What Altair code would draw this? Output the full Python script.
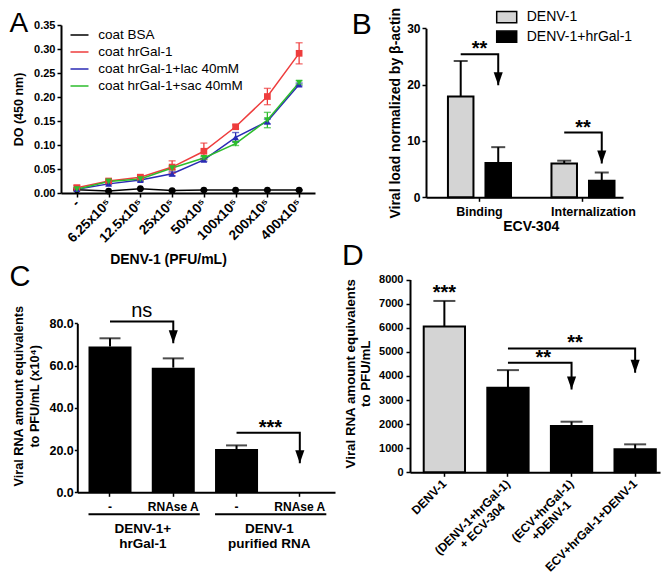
import altair as alt
import pandas as pd

FONT = "Liberation Sans"
BLACK = "#000000"
GRAY = "#d4d4d4"
TRI = "M-0.7,-2L0.7,-2L0,0Z"
BOX = "M-1.25,-0.7H1.25V0.7H-1.25Z"
NB = "\u00a0"
ZW = "\u200b"

# ---------------- Panel A data ----------------
a_doses = ["-", "6.25x10⁵", "12.5x10⁵", "25x10⁵", "50x10⁵", "100x10⁵", "200x10⁵", "400x10⁵"]
a_series = ["coat BSA", "coat hrGal-1", "coat hrGal-1+lac 40mM", "coat hrGal-1+sac 40mM"]
a_keys = ["k1", "k2", "k3", "k4"]
a_colors = ["#000000", "#ee3d3d", "#2a2ab4", "#2dbd2d"]
a_shapes = ["circle", "square", "triangle-up", "triangle-down"]
a_bsa = [0.007, 0.004, 0.009, 0.005, 0.006, 0.006, 0.006, 0.006]
a_bsa_err = [0.001, 0.001, 0.001, 0.001, 0.001, 0.001, 0.001, 0.001]
a_gal = [0.011, 0.025, 0.033, 0.054, 0.087, 0.138, 0.201, 0.291]
a_gal_err = [0.005, 0.003, 0.004, 0.013, 0.017, 0.004, 0.017, 0.022]
a_lac = [0.008, 0.019, 0.027, 0.040, 0.069, 0.116, 0.149, 0.226]
a_lac_err = [0.003, 0.002, 0.003, 0.004, 0.003, 0.010, 0.005, 0.003]
a_sac = [0.008, 0.024, 0.029, 0.052, 0.073, 0.103, 0.152, 0.230]
a_sac_err = [0.003, 0.002, 0.003, 0.004, 0.003, 0.004, 0.016, 0.004]
a_yticks = [0.0, 0.05, 0.10, 0.15, 0.20, 0.25, 0.30, 0.35]

# ---------------- Panel B data ----------------
b_groups = ["Binding", "Internalization"]
b_series = ["DENV-1", "DENV-1+hrGal-1"]
b_denv = [17.9, 6.0]
b_denv_err = [24.2, 6.5]
b_gal = [6.1, 2.95]
b_gal_err = [8.9, 4.4]
b_sig_group = ["Binding", "Internalization"]
b_sig_top = [25.4, 11.5]
b_sig_tip = [19.9, 6.0]
b_sig_text = ["**", "**"]
b_yticks = [0, 10, 20, 30]

# ---------------- Panel C data ----------------
c_cats = ["DENV-1+hrGal-1|-", "DENV-1+hrGal-1|RNAse A", "purified RNA|-", "purified RNA|RNAse A"]
c_values = [69.0, 59.0, 20.5, 0.0]
c_err = [72.9, 63.4, 22.2, 0.0]
c_groups = ["DENV-1+\nhrGal-1", "DENV-1\npurified RNA"]
c_group_first = [0, 2]
c_group_last = [1, 3]
c_sig_from = [0, 2]
c_sig_to = [1, 3]
c_sig_top = [80.8, 28.2]
c_sig_tip = [70.5, 13.7]
c_sig_text = ["ns", "***"]
c_yticks = [0, 20, 40, 60, 80]

# ---------------- Panel D data ----------------
d_cats = ["DENV-1", "(DENV-1+hrGal-1)|+ ECV-304", "(ECV+hrGal-1)|+DENV-1", "ECV+hrGal-1+DENV-1"]
d_kind = ["virus", "treated", "treated", "treated"]
d_values = [6050, 3510, 1920, 955]
d_err = [7110, 4240, 2100, 1160]
d_sig_from = [1, 1]
d_sig_to = [2, 3]
d_sig_top = [4542, 5139]
d_sig_tip = [3440, 4128]
d_sig_text = ["**", "**"]
d_yticks = [0, 1000, 2000, 3000, 4000, 5000, 6000, 7000, 8000]

STAR = 20      # asterisk font size
STAR_DY = 1    # asterisk baseline shift below the bracket line


def ax(**kw):
    base = dict(grid=False, domainColor=BLACK, domainWidth=2, tickColor=BLACK, tickWidth=1.5,
                labelColor=BLACK, labelFont=FONT, labelFontWeight="bold", titleColor=BLACK,
                titleFont=FONT, titleFontWeight="bold", labelOverlap=False)
    base.update(kw)
    return alt.Axis(**base)


def one(**kw):
    return pd.DataFrame([kw])


def X(field, scale, axis=None, **kw):
    if axis is not None:
        kw["axis"] = axis
    return alt.X(field, scale=scale, **kw)


def Y(field, scale, axis=None, **kw):
    if axis is not None:
        kw["axis"] = axis
    return alt.Y(field, scale=scale, **kw)


# =============== Panel A ===============
rows = []
for s, k, vals, errs in zip(a_series, a_keys, [a_bsa, a_gal, a_lac, a_sac],
                            [a_bsa_err, a_gal_err, a_lac_err, a_sac_err]):
    for d, v, e in zip(a_doses, vals, errs):
        rows.append({"dose": d, "series": s, "key": k, "value": v, "lo": v - e, "hi": v + e})
df_a = pd.DataFrame(rows)

a_xs = alt.Scale(type="point", domain=a_doses, range=[53, 307], padding=0.5)
a_ys = alt.Scale(domain=[0, 0.35], range=[185, 17], nice=False)
a_xaxis = ax(orient="bottom", offset=-383, title="DENV-1 (PFU/mL)", titleFontSize=14, titleX=160,
             titleY=70.5, titleAlign="center", titleBaseline="alphabetic", titleAngle=0,
             labelAngle=-45, labelAlign="right", labelBaseline="middle", labelFontSize=13.5,
             labelPadding=4, tickSize=4)
a_yaxis = ax(orient="left", offset=-53, values=a_yticks, format=".2f", title="DO (450 nm)",
             titleFontSize=12.5, titleX=-43, titleAlign="center", titleBaseline="middle",
             titleAngle=270, labelFontSize=11, labelPadding=2, tickSize=4)
a_stroke = alt.Scale(domain=a_series, range=a_colors)
a_fill = alt.Scale(domain=a_keys, range=a_colors)
a_shape = alt.Scale(domain=a_keys, range=a_shapes)


def a_x(axis=None):
    return X("dose:N", a_xs, axis, sort=a_doses)


def a_y(field, axis=None):
    return Y(f"{field}:Q", a_ys, axis)


line_legend = alt.Legend(orient="none", legendX=61.5, legendY=17, title=None, symbolType="stroke",
                         symbolSize=324, symbolStrokeWidth=1.5, labelFont=FONT, labelFontSize=13.5,
                         labelColor=BLACK, labelOffset=8.8, rowPadding=0, padding=0, labelLimit=400)
pt_legend = alt.Legend(orient="none", legendX=68, legendY=20.5, title=None, symbolSize=45,
                       symbolStrokeWidth=0, labelFont=FONT, labelFontSize=13, labelOpacity=0,
                       rowPadding=7, padding=0)

a_lines = alt.Chart(df_a).mark_line(strokeWidth=1.5).encode(
    x=a_x(a_xaxis), y=a_y("value", a_yaxis),
    stroke=alt.Stroke("series:N", scale=a_stroke, sort=a_series, legend=line_legend))
a_errs = alt.Chart(df_a).mark_rule(strokeWidth=1.3).encode(
    x=a_x(), y=a_y("lo"), y2="hi",
    stroke=alt.Stroke("series:N", scale=a_stroke, sort=a_series, legend=None))
a_cap_hi = alt.Chart(df_a).mark_tick(size=7, thickness=1.4).encode(
    x=a_x(), y=a_y("hi"), fill=alt.Fill("key:N", scale=a_fill, legend=None))
a_cap_lo = alt.Chart(df_a).mark_tick(size=7, thickness=1.4).encode(
    x=a_x(), y=a_y("lo"), fill=alt.Fill("key:N", scale=a_fill, legend=None))
a_pts = alt.Chart(df_a).mark_point(filled=True, size=45, opacity=1, strokeWidth=0).encode(
    x=a_x(), y=a_y("value"),
    fill=alt.Fill("key:N", scale=a_fill, legend=pt_legend),
    shape=alt.Shape("key:N", scale=a_shape, legend=pt_legend))
panel_a = alt.layer(a_lines, a_errs, a_cap_hi, a_cap_lo, a_pts)

# =============== Panel B ===============
rows = []
for s, vals, errs in zip(b_series, [b_denv, b_gal], [b_denv_err, b_gal_err]):
    for g, v, e in zip(b_groups, vals, errs):
        rows.append({"group": g, "series": s, "value": v, "err": e})
df_b = pd.DataFrame(rows)

b_xs = alt.Scale(domain=b_groups, range=[418, 615], paddingInner=0.391, paddingOuter=0.147,
                 align=0.721, round=False)
b_os = alt.Scale(domain=b_series, paddingInner=0.32, paddingOuter=0, round=False)
b_ys = alt.Scale(domain=[0, 30], range=[189.3, 20.3], nice=False)
b_xaxis = ax(orient="bottom", offset=-378.7, title="ECV-304", titleFontSize=14, titleX=522.7,
             titleY=32.7, titleAlign="center", titleBaseline="alphabetic", titleAngle=0,
             labelAngle=0, labelFontSize=12.5, labelPadding=4, tickSize=4, labelBaseline="top",
             labelExpr=f"datum.label == 'Internalization' ? '{ZW}{NB * 6}' + datum.label : datum.label")
b_yaxis = ax(orient="left", offset=-418, values=b_yticks, title="Viral load normalized by β-actin",
             titleFontSize=14, titleX=-31, titleAlign="center", titleBaseline="middle",
             titleAngle=270, labelFontSize=12, labelPadding=2, tickSize=4)


def b_x(axis=None):
    return X("group:N", b_xs, axis)


def b_o():
    return alt.XOffset("series:N", scale=b_os)


def b_y(field, axis=None):
    return Y(f"{field}:Q", b_ys, axis)


bar_legend = alt.Legend(orient="none", legendX=489.7, legendY=0.2, title=None, symbolType=BOX,
                        symbolSize=256, symbolStrokeColor=BLACK, symbolStrokeWidth=1.5,
                        labelFont=FONT, labelFontSize=14, labelColor=BLACK, labelOffset=11,
                        rowPadding=1.5, padding=0, labelLimit=400)

b_bars = alt.Chart(df_b).mark_bar(stroke=BLACK, strokeWidth=2).encode(
    x=b_x(b_xaxis), xOffset=b_o(), y=b_y("value", b_yaxis),
    fill=alt.Fill("series:N", scale=alt.Scale(domain=b_series, range=[GRAY, BLACK]), legend=bar_legend))
b_whisk = alt.Chart(df_b).mark_rule(strokeWidth=2, color=BLACK).encode(
    x=b_x(), xOffset=b_o(), y=b_y("value"), y2="err")
b_caps = alt.Chart(df_b).mark_tick(size=14, thickness=2, color=BLACK).encode(
    x=b_x(), xOffset=b_o(), y=b_y("err"))

rows = []
for i, (g, t, p) in enumerate(zip(b_sig_group, b_sig_top, b_sig_tip)):
    rows += [{"id": i, "k": 0, "group": g, "series": b_series[0], "yy": t},
             {"id": i, "k": 1, "group": g, "series": b_series[1], "yy": t},
             {"id": i, "k": 2, "group": g, "series": b_series[1], "yy": p}]
df_bb = pd.DataFrame(rows)
df_bt = pd.DataFrame({"group": b_sig_group, "series": b_series[1], "tip": b_sig_tip,
                      "top": b_sig_top, "txt": b_sig_text})
b_br = alt.Chart(df_bb).mark_line(strokeWidth=2, color=BLACK).encode(
    x=b_x(), xOffset=b_o(), y=b_y("yy"), detail="id:N", order="k:Q")
b_arr = alt.Chart(df_bt).mark_point(shape=TRI, filled=True, size=169, color=BLACK, opacity=1,
                                    strokeWidth=0).encode(x=b_x(), xOffset=b_o(), y=b_y("tip"))
b_txt = alt.Chart(df_bt).mark_text(fontSize=STAR, fontWeight="bold", font=FONT, baseline="alphabetic",
                                   dy=STAR_DY, color=BLACK).encode(x=b_x(), y=b_y("top"), text="txt:N")
panel_b = alt.layer(b_bars, b_whisk, b_caps, b_br, b_arr, b_txt)


# =============== helpers for C and D ===============
def bar_panel(cats, values, errs, xs, ys, xaxis, yaxis, bar_fill, cap, sig_from, sig_to,
              sig_top, sig_tip):
    df = pd.DataFrame({"cat": cats, "value": values, "err": errs})
    if bar_fill is None:
        bars = alt.Chart(df).mark_bar(color=BLACK)
    else:
        df["kind"] = bar_fill[0]
        bars = alt.Chart(df).mark_bar(stroke=BLACK, strokeWidth=2)
    enc = dict(x=X("cat:N", xs, xaxis), y=Y("value:Q", ys, yaxis))
    if bar_fill is not None:
        enc["fill"] = alt.Fill("kind:N", scale=alt.Scale(domain=bar_fill[1], range=bar_fill[2]),
                               legend=None)
    bars = bars.encode(**enc)
    xn = X("cat:N", xs)
    whisk = alt.Chart(df).transform_filter("datum.err > 0").mark_rule(strokeWidth=2, color=BLACK).encode(
        x=xn, y=Y("value:Q", ys), y2="err")
    caps = alt.Chart(df).transform_filter("datum.err > 0").mark_tick(size=cap, thickness=2, color=BLACK).encode(
        x=xn, y=Y("err:Q", ys))
    rows = []
    for i, (a, b, t, p) in enumerate(zip(sig_from, sig_to, sig_top, sig_tip)):
        rows += [{"id": i, "k": 0, "cat": cats[a], "yy": t},
                 {"id": i, "k": 1, "cat": cats[b], "yy": t},
                 {"id": i, "k": 2, "cat": cats[b], "yy": p}]
    dfb = pd.DataFrame(rows)
    br = alt.Chart(dfb).mark_line(strokeWidth=2, color=BLACK).encode(
        x=xn, y=Y("yy:Q", ys), detail="id:N", order="k:Q")
    dft = pd.DataFrame({"cat": [cats[b] for b in sig_to], "tip": sig_tip})
    arr = alt.Chart(dft).mark_point(shape=TRI, filled=True, size=169, color=BLACK, opacity=1,
                                    strokeWidth=0).encode(x=xn, y=Y("tip:Q", ys))
    return [bars, whisk, caps, br, arr]


def note(cat, yv, txt, xs, ys, bp, dx, dy, size, weight):
    return alt.Chart(one(cat=cat, y=yv, txt=txt)).mark_text(
        fontSize=size, fontWeight=weight, font=FONT, baseline="alphabetic", dx=dx, dy=dy,
        color=BLACK).encode(x=X("cat:N", xs, bandPosition=bp), y=Y("y:Q", ys), text="txt:N")


# =============== Panel C ===============
c_xs = alt.Scale(domain=c_cats, range=[69.3, 327], paddingInner=0.3204, paddingOuter=0.1967,
                 align=0.45, round=False)
c_ys = alt.Scale(domain=[0, 80], range=[484.3, 315.3], nice=False)
c_xaxis = ax(orient="bottom", offset=-83.7, title=None, labelExpr="split(datum.label, '|')[1]",
             labelAngle=0, labelFontSize=12, labelPadding=5, tickSize=4, labelBaseline="top")
c_yaxis = ax(orient="left", offset=-69.3, values=c_yticks, format=".1f",
             title=["Viral RNA amount equivalents", "to PFU/mL (x10⁴)"], titleFontSize=12.7,
             titleLineHeight=16, titleX=-59.3, titleY=387.8, titleAlign="center",
             titleBaseline="middle", titleAngle=270, labelFontSize=12.5, labelPadding=1, tickSize=3)
c_layers = bar_panel(c_cats, c_values, c_err, c_xs, c_ys, c_xaxis, c_yaxis, None, 21,
                     c_sig_from, c_sig_to, c_sig_top, c_sig_tip)
c_layers.append(note(c_cats[1], c_sig_top[0], c_sig_text[0], c_xs, c_ys, 0, -10, -4.7, 20, "normal"))
c_layers.append(note(c_cats[3], c_sig_top[1], c_sig_text[1], c_xs, c_ys, 0, -8, STAR_DY, STAR, "bold"))
df_cg = pd.DataFrame({"c1": [c_cats[i] for i in c_group_first], "c2": [c_cats[i] for i in c_group_last],
                      "txt": c_groups})
c_layers.append(alt.Chart(df_cg).mark_rule(strokeWidth=2, color=BLACK, x2Offset=5).encode(
    x=X("c1:N", c_xs, bandPosition=0),
    x2=alt.X2("c2:N", bandPosition=1), y=alt.value(506.3)))
c_layers.append(alt.Chart(df_cg).mark_text(fontSize=13.5, fontWeight="bold", font=FONT,
                                           baseline="alphabetic", lineBreak="\n", lineHeight=15,
                                           dx=-9, color=BLACK).encode(
    x=X("c2:N", c_xs, bandPosition=0), y=alt.value(525), text="txt:N"))
panel_c = alt.layer(*c_layers)

# =============== Panel D ===============
# second label lines are padded (non-trimmable) so they sit centred under the first line
d_label_expr = (
    "length(split(datum.label, '|')) > 1 ? "
    "[split(datum.label, '|')[0], split(datum.label, '|')[1] + "
    f"(indexof(datum.label, 'ECV-304') >= 0 ? '{NB * 6}{ZW}' : '{NB * 5}{ZW}')] : datum.label"
)
d_xs = alt.Scale(domain=d_cats, range=[402, 652], paddingInner=0.3506, paddingOuter=0.141,
                 align=0.765, round=False)
d_ys = alt.Scale(domain=[0, 8000], range=[464.3, 271.5], nice=False)
d_xaxis = ax(orient="bottom", offset=-103.7, title=None, labelExpr=d_label_expr,
             labelAngle=-45, labelAlign="right", labelBaseline="middle", labelFontSize=12,
             labelLineHeight=13, labelPadding=5, tickSize=4)
d_yaxis = ax(orient="left", offset=-402, values=d_yticks, format="d",
             title=["Viral RNA amount equivalents", "to PFU/mL"], titleFontSize=13.3,
             titleLineHeight=15, titleX=-60, titleY=365.3, titleAlign="center",
             titleBaseline="middle", titleAngle=270, labelFontSize=11, labelPadding=3, tickSize=4)
d_layers = bar_panel(d_cats, d_values, d_err, d_xs, d_ys, d_xaxis, d_yaxis,
                     (d_kind, ["virus", "treated"], [GRAY, BLACK]), 22,
                     d_sig_from, d_sig_to, d_sig_top, d_sig_tip)
d_layers.append(note(d_cats[0], d_err[0], "***", d_xs, d_ys, 0.5, 0, -2, STAR, "bold"))
d_layers.append(note(d_cats[2], d_sig_top[0], d_sig_text[0], d_xs, d_ys, 0, -7.6, STAR_DY, STAR, "bold"))
d_layers.append(note(d_cats[2], d_sig_top[1], d_sig_text[1], d_xs, d_ys, 0.5, 3.5, STAR_DY, STAR, "bold"))
panel_d = alt.layer(*d_layers)

# =============== panel letters ===============
letters = []
for L, x, y, fs, bl in [("A", 1.5, 2, 28, "top"), ("B", 343.7, 2, 30, "top"),
                        ("C", 1.5, 278, 29, "alphabetic"), ("D", 334, 257, 30, "alphabetic")]:
    letters.append(alt.Chart(one(t=L)).mark_text(align="left", baseline=bl, fontSize=fs,
                                                 font=FONT, color=BLACK).encode(
        text="t:N", x=alt.value(x), y=alt.value(y)))

chart = alt.layer(panel_a, panel_b, panel_c, panel_d, *letters).resolve_scale(
    x="independent", y="independent", stroke="independent", fill="independent", shape="independent"
).resolve_axis(x="independent", y="independent").resolve_legend(
    stroke="independent", fill="independent", shape="independent"
).properties(width=654, height=568, padding=0, autosize=alt.AutoSizeParams(type="none")
).configure(font=FONT).configure_view(strokeWidth=0).configure_axis(grid=False)

chart.save("out.html", embed_options={"renderer": "svg", "actions": False})
